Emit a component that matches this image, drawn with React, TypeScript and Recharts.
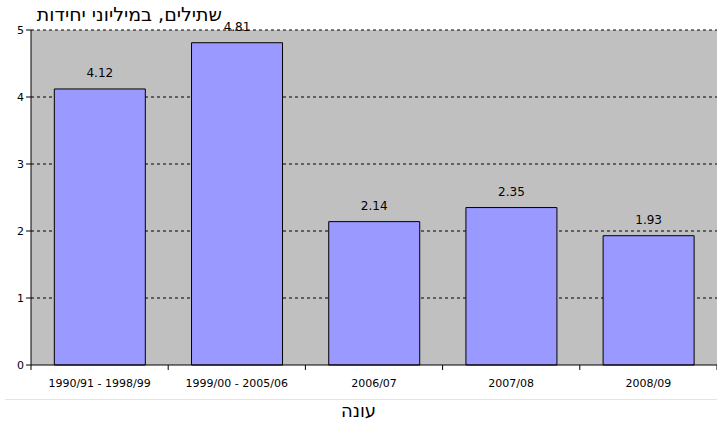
import { Bar, BarChart, CartesianGrid, LabelList, XAxis, YAxis } from "recharts";

const seasons = ["1990/91 - 1998/99", "1999/00 - 2005/06", "2006/07", "2007/08", "2008/09"];
const seedlings = [4.12, 4.81, 2.14, 2.35, 1.93];
const yTicks = [0, 1, 2, 3, 4, 5];

const data = seasons.map((name, i) => ({ name, value: seedlings[i] }));

const font = "'DejaVu Sans', Tahoma, sans-serif";

const W = 717;
const H = 421;
const LEFT = 31;
const X_AXIS_H = 56;
const PLOT_BOTTOM = H - X_AXIS_H;
const SLOT = (W - LEFT) / seasons.length;

// Excel puts category ticks between the bars, so draw them by hand from the band centre.
function SeasonTick(props: any) {
  const { x, payload, index } = props;
  return (
    <g>
      <line x1={x - SLOT / 2} x2={x - SLOT / 2} y1={PLOT_BOTTOM} y2={PLOT_BOTTOM + 5} stroke="#000" />
      {index === seasons.length - 1 && (
        <line x1={x + SLOT / 2} x2={x + SLOT / 2} y1={PLOT_BOTTOM} y2={PLOT_BOTTOM + 5} stroke="#000" />
      )}
      <text x={x} y={PLOT_BOTTOM + 22} textAnchor="middle" fontSize={11} fontFamily={font} fill="#000">
        {payload.value}
      </text>
    </g>
  );
}

export default function App() {
  return (
    <div style={{ position: "absolute", left: 0, top: 0, width: W, height: H, background: "#fff", fontFamily: font }}>
      <BarChart
        width={W}
        height={H}
        data={data}
        margin={{ top: 30, right: 0, bottom: 0, left: 0 }}
        barCategoryGap="17%"
      >
        <CartesianGrid
          fill="#c0c0c0"
          stroke="#000"
          strokeDasharray="3 3"
          vertical={false}
          horizontalValues={[1, 2, 3, 4, 5]}
        />
        <XAxis
          dataKey="name"
          height={X_AXIS_H}
          interval={0}
          tickLine={false}
          stroke="#000"
          tick={<SeasonTick />}
        />
        <YAxis
          width={LEFT}
          domain={[0, 5]}
          ticks={yTicks}
          interval={0}
          stroke="#000"
          tickSize={5}
          tick={{ fontSize: 11, fontFamily: font, fill: "#000" }}
        />
        <Bar dataKey="value" fill="#9999ff" stroke="#000" strokeWidth={1} isAnimationActive={false}>
          <LabelList dataKey="value" position="top" offset={12} fontSize={12} fontFamily={font} fill="#000" />
        </Bar>
      </BarChart>
      <div
        style={{ position: "absolute", left: 0, top: 1, width: 222, textAlign: "right", fontSize: 19, lineHeight: "26px", direction: "rtl" }}
      >
        שתילים, במיליוני יחידות
      </div>
      <div style={{ position: "absolute", left: 5, top: 399, width: 712, height: 1, background: "#e4e4e4" }} />
      <div style={{ position: "absolute", left: 0, top: 400, width: W, textAlign: "center", fontSize: 18, lineHeight: "22px" }}>
        עונה
      </div>
    </div>
  );
}
